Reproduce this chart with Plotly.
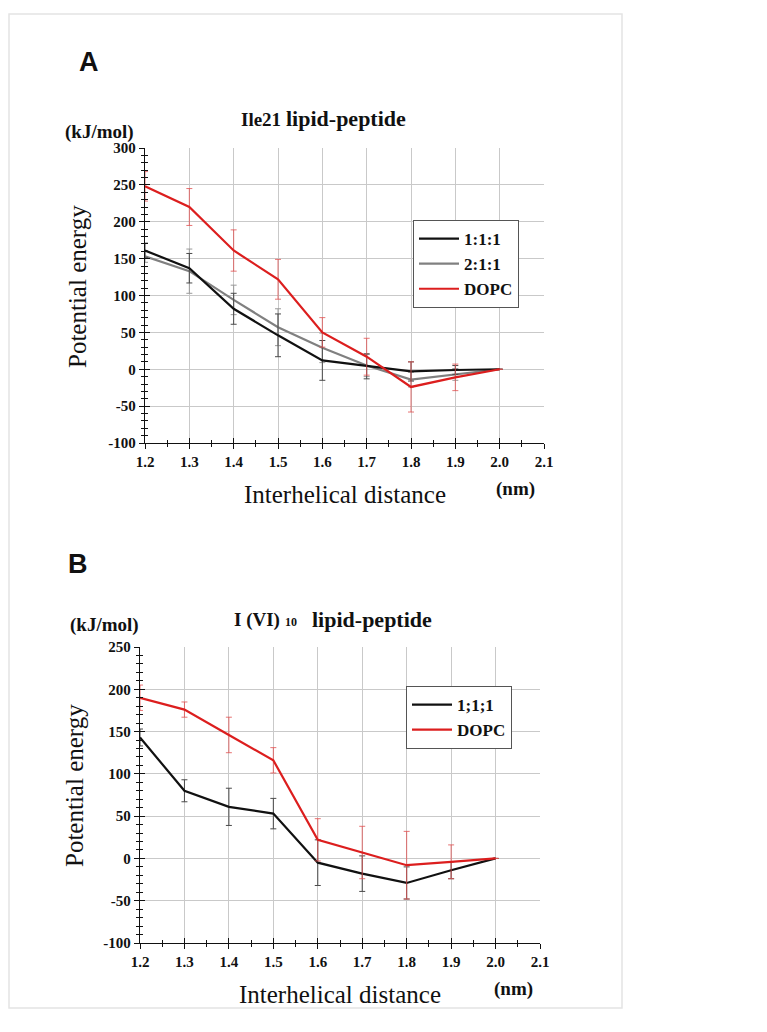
import plotly.graph_objects as go

W, H = 767, 1032

# ---------------- data ----------------
distance = [1.2, 1.3, 1.4, 1.5, 1.6, 1.7, 1.8, 1.9, 2.0]

# Panel A : Ile21 lipid-peptide
a_111 = [161, 137, 82, 46, 12, 4, -3, -1, 0]
a_111_err = [10, 20, 21, 29, 27, 17, 13, 6, None]
a_211 = [153, 133, 94, 57, 29, 5, -14, -7, 0]
a_211_err = [8, 30, 20, 25, 20, 15, 10, 8, None]
a_dopc = [248, 220, 161, 122, 50, 17, -24, -11, 0]
a_dopc_err = [20, 25, 28, 27, 20, 25, 34, 18, None]

# Panel B : I(VI)10 lipid-peptide
b_111 = [143, 80, 61, 53, -5, -18, -29, -14, 0]
b_111_err = [10, 13, 22, 18, 27, 21, 19, 10, None]
b_dopc = [190, 176, 146, 116, 22, 7, -8, -4, 0]
b_dopc_err = [15, 9, 21, 15, 25, 31, 40, 20, None]

x_ticks = [1.2, 1.3, 1.4, 1.5, 1.6, 1.7, 1.8, 1.9, 2.0, 2.1]
x_ticklabels = ["1.2", "1.3", "1.4", "1.5", "1.6", "1.7", "1.8", "1.9", "2.0", "2.1"]
x_grid = [1.3, 1.4, 1.5, 1.6, 1.7, 1.8, 1.9, 2.0]
ya_ticks = [-100, -50, 0, 50, 100, 150, 200, 250, 300]
ya_ticklabels = ["-100", "-50", "0", "50", "100", "150", "200", "250", "300"]
ya_grid = [-50, 0, 50, 100, 150, 200, 250]
yb_ticks = [-100, -50, 0, 50, 100, 150, 200, 250]
yb_ticklabels = ["-100", "-50", "0", "50", "100", "150", "200", "250"]
yb_grid = [-50, 0, 50, 100, 150, 200]

# ---------------- style ----------------
SERIF = "Liberation Serif"
SANS = "Liberation Sans"
BLACK = "#111111"
GRAY = "#808080"
RED = "#dc1e1e"
RED_ERR = "rgba(225,80,80,0.8)"
BLACK_ERR = "#4a4a4a"
GRAY_ERR = "#9a9a9a"
GRIDC = "#c9c9c9"

def px_x(p):
    return p / W

def px_y(p):
    return 1 - p / H

domA_x = [px_x(145), px_x(544)]
domA_y = [px_y(443), px_y(148)]
domB_x = [px_x(140), px_x(540)]
domB_y = [px_y(943), px_y(647)]

fig = go.Figure()

def series(x, y, err, color, ecolor, name, xa, ya, legend, rank):
    fig.add_trace(go.Scatter(
        x=x, y=y, mode="lines", name=name,
        line=dict(color=color, width=2.2),
        error_y=dict(type="data", array=err, visible=True, color=ecolor,
                     thickness=1, width=3),
        xaxis=xa, yaxis=ya, legend=legend, legendrank=rank,
    ))

# draw order: gray, black, red on top
series(distance, a_211, a_211_err, GRAY, GRAY_ERR, "2:1:1", "x", "y", "legend", 2)
series(distance, a_111, a_111_err, BLACK, BLACK_ERR, "1:1:1", "x", "y", "legend", 1)
series(distance, a_dopc, a_dopc_err, RED, RED_ERR, "DOPC", "x", "y", "legend", 3)
series(distance, b_111, b_111_err, BLACK, BLACK_ERR, "1;1;1", "x2", "y2", "legend2", 1)
series(distance, b_dopc, b_dopc_err, RED, RED_ERR, "DOPC", "x2", "y2", "legend2", 2)

# empty helper traces so overlay axes exist
for xa, ya in [("x3", "y"), ("x5", "y"), ("x", "y3"), ("x", "y5"),
               ("x4", "y2"), ("x6", "y2"), ("x2", "y4"), ("x2", "y6")]:
    fig.add_trace(go.Scatter(x=[], y=[], xaxis=xa, yaxis=ya, showlegend=False,
                             hoverinfo="skip"))

tickfont = dict(family=SERIF, size=15, color="#111", weight="bold")

def label_axis(tickvals, ticktext, rng, dom, anchor, minor_dtick):
    return dict(range=rng, domain=dom, anchor=anchor, tickmode="array",
                tickvals=tickvals, ticktext=ticktext, ticks="outside",
                ticklen=5, tickwidth=1.3, tickcolor="#111",
                showline=True, linecolor="#111", linewidth=1.3,
                showgrid=False, zeroline=False, tickfont=tickfont,
                automargin=False,
                minor=dict(dtick=minor_dtick, ticks="outside", ticklen=3,
                           tickwidth=1.1, tickcolor="#111", showgrid=False),
                fixedrange=True)

def inside_axis(tickvals, rng, base, anchor, minor_dtick, side):
    return dict(range=rng, overlaying=base, anchor=anchor, side=side,
                tickmode="array", tickvals=tickvals, ticks="inside",
                ticklen=5, tickwidth=1.3, tickcolor="#111",
                showticklabels=False, showline=False, showgrid=False,
                zeroline=False, automargin=False,
                minor=dict(dtick=minor_dtick, ticks="inside", ticklen=3,
                           tickwidth=1.1, tickcolor="#111", showgrid=False),
                fixedrange=True)

def grid_axis(tickvals, rng, base, anchor, side):
    return dict(range=rng, overlaying=base, anchor=anchor, side=side,
                tickmode="array", tickvals=tickvals, ticks="",
                showticklabels=False, showline=False, showgrid=True,
                gridcolor=GRIDC, gridwidth=1, zeroline=False, layer="below traces",
                automargin=False, fixedrange=True)

xr = [1.2, 2.1]
yar = [-100, 300]
ybr = [-100, 250]

legfont = dict(family=SERIF, size=17, color="#111", weight="bold")

fig.update_layout(
    width=W, height=H,
    margin=dict(l=0, r=0, t=0, b=0, pad=0, autoexpand=False),
    paper_bgcolor="white", plot_bgcolor="white",
    xaxis=label_axis(x_ticks, x_ticklabels, xr, domA_x, "y", 0.05),
    yaxis=label_axis(ya_ticks, ya_ticklabels, yar, domA_y, "x", 10),
    xaxis2=label_axis(x_ticks, x_ticklabels, xr, domB_x, "y2", 0.05),
    yaxis2=label_axis(yb_ticks, yb_ticklabels, ybr, domB_y, "x2", 10),
    xaxis3=inside_axis(x_ticks, xr, "x", "y", 0.05, "bottom"),
    yaxis3=inside_axis(ya_ticks, yar, "y", "x", 10, "left"),
    xaxis4=inside_axis(x_ticks, xr, "x2", "y2", 0.05, "bottom"),
    yaxis4=inside_axis(yb_ticks, ybr, "y2", "x2", 10, "left"),
    xaxis5=grid_axis(x_grid, xr, "x", "y", "bottom"),
    yaxis5=grid_axis(ya_grid, yar, "y", "x", "left"),
    xaxis6=grid_axis(x_grid, xr, "x2", "y2", "bottom"),
    yaxis6=grid_axis(yb_grid, ybr, "y2", "x2", "left"),
    legend=dict(x=px_x(413), y=px_y(220), xanchor="left", yanchor="top",
                bgcolor="white", bordercolor="#555", borderwidth=1,
                font=legfont, traceorder="normal", itemwidth=40,
                tracegroupgap=0),
    legend2=dict(x=px_x(406), y=px_y(686), xanchor="left", yanchor="top",
                 bgcolor="white", bordercolor="#555", borderwidth=1,
                 font=legfont, traceorder="normal", itemwidth=40,
                 tracegroupgap=0),
    showlegend=True,
)

def ann(text, x, y, size, family=SERIF, bold=False, xanchor="center",
        yanchor="middle", angle=0):
    fig.add_annotation(
        text=text, x=px_x(x), y=px_y(y), xref="paper", yref="paper",
        showarrow=False, xanchor=xanchor, yanchor=yanchor, textangle=angle,
        borderpad=0,
        font=dict(family=family, size=size, color="#111",
                  weight="bold" if bold else "normal"),
    )

# Panel letters
ann("A", 89, 62, 27, family=SANS, bold=True)
ann("B", 78, 564, 27, family=SANS, bold=True)

# Panel A texts
ann("(kJ/mol)", 99, 132, 19, bold=True)
ann("Ile21", 282, 120, 19, bold=True, xanchor="right")
ann("lipid-peptide", 285, 119, 22, bold=True, xanchor="left")
ann("Potential energy", 77, 287, 25, angle=-90)
ann("Interhelical distance", 345, 495, 25)
ann("(nm)", 515, 489, 19, bold=True)

# Panel B texts
ann("(kJ/mol)", 104, 625, 19, bold=True)
ann("I (VI)", 233, 620, 19, bold=True, xanchor="left")
ann("10", 284, 622, 12, bold=True, xanchor="left")
ann("lipid-peptide", 311, 619, 22, bold=True, xanchor="left")
ann("Potential energy", 74, 786, 25, angle=-90)
ann("Interhelical distance", 340, 994, 25)
ann("(nm)", 513, 989, 19, bold=True)

# faint outer frame
fig.add_shape(type="rect", xref="paper", yref="paper",
              x0=px_x(9), x1=px_x(622), y0=px_y(1008), y1=px_y(14),
              line=dict(color="#e4e4e4", width=1.5), layer="below")

fig.write_html(
    "out.html",
    config={"displayModeBar": False},
    post_script="document.body.style.margin='0';document.body.style.padding='0';",
)
